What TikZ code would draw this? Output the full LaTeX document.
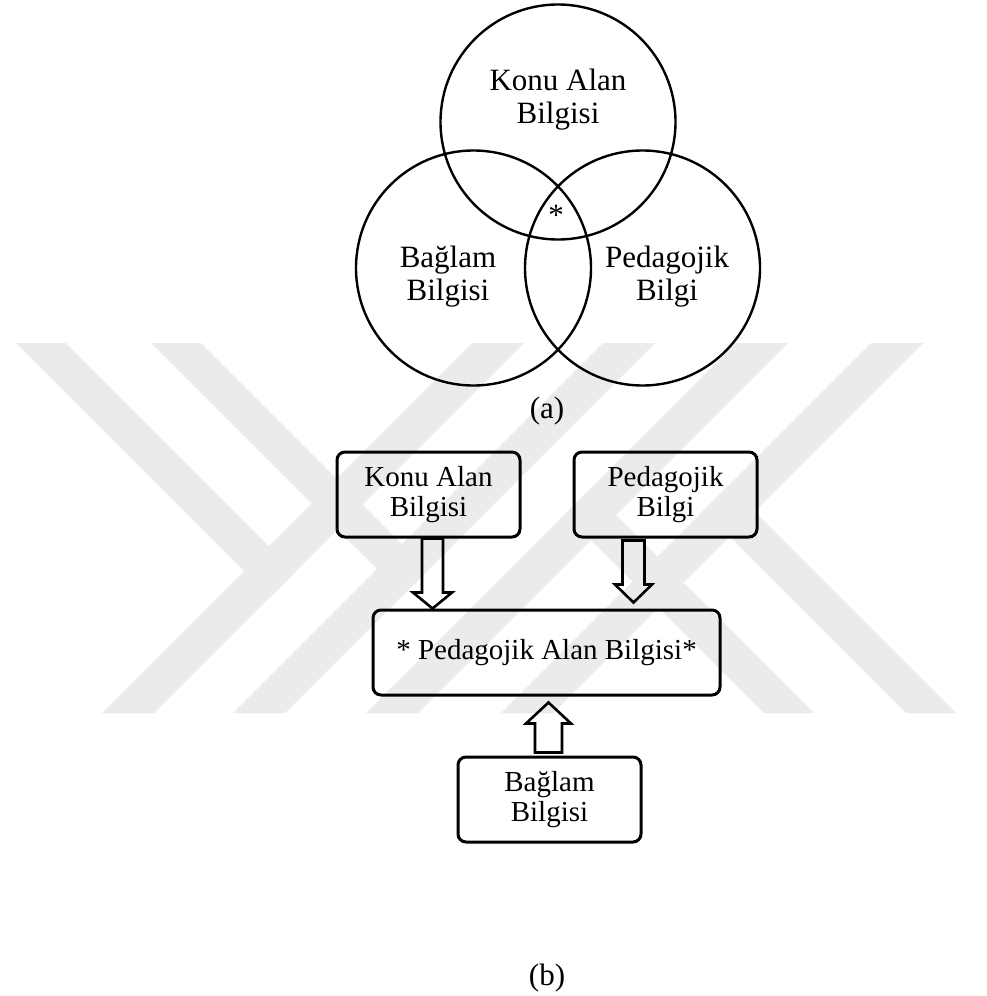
\documentclass[tikz,border=0pt]{standalone}
\usepackage{fontspec}
\setmainfont{Liberation Serif}
\usetikzlibrary{calc,positioning}
\definecolor{wmgray}{HTML}{EBEBEB}

% hollow block arrow: start, tip, shaft half width, head half width, head length
\newcommand{\hollowarrow}[5]{%
  \coordinate (hbase) at ($(#2)!#5!(#1)$);
  \draw[arrowline] ($(#1)!#3!90:(#2)$) -- ($(hbase)!#3!90:(#2)$)
    -- ($(hbase)!#4!90:(#2)$) -- (#2) -- ($(hbase)!#4!-90:(#2)$)
    -- ($(hbase)!#3!-90:(#2)$) -- ($(#1)!#3!-90:(#2)$) -- cycle;
}

\begin{document}
\begin{tikzpicture}[
  x=0.5pt, y=-0.5pt,
  venn/.style={circle, draw, line width=1.2pt, minimum size=117.5pt, inner sep=0pt},
  lbl/.style={align=center, font=\fontsize{15.5}{16.5}\selectfont},
  box/.style={draw, line width=1.5pt, rounded corners=4pt, align=center,
    minimum width=91.5pt, minimum height=42.5pt, inner sep=2pt,
    font=\fontsize{14.5}{15}\selectfont},
  arrowline/.style={draw, line width=1.3pt},
  wm/.style={fill=wmgray}
]
\useasboundingbox (0,0) rectangle (986,996);

% watermark
\foreach \a in {472,603,736,871}
  \fill[wm] (\a,343) -- ({\a+52},343) -- ({\a-318},713) -- ({\a-370},713) -- cycle;
\fill[wm] (16,343) -- (66,343) -- (295,572) -- (270,597) -- cycle;
\fill[wm] (151,343) -- (201,343) -- (428,570) -- (403,595) -- cycle;
\fill[wm] (565,514) -- (590,489) -- (814,713) -- (764,713) -- cycle;
\fill[wm] (703.5,510.5) -- (728.5,485.5) -- (956,713) -- (906,713) -- cycle;

% (a) three circles
\node[venn] (konu) at (558,122) {};
\node[venn] (baglam) at (473.5,268) {};
\node[venn] (peda) at (642.5,268) {};
\node[lbl] (konutxt) at (558,100) {Konu Alan\\Bilgisi};
\node[lbl] (baglamtxt) at (448,277) {Bağlam\\Bilgisi};
\node[lbl] (pedatxt) at (667,277) {Pedagojik\\Bilgi};
\node[lbl] (star) at (556,215) {*};
\node[lbl] (capa) at (547,411) {(a)};

% (b) boxes
\node[box] (kab) at (428.5,494.5) {Konu Alan\\Bilgisi};
\node[box, right=25.5pt of kab] (pb) {Pedagojik\\Bilgi};
\node[box, minimum width=173.5pt] (pab) at (546.5,652.5) {* Pedagojik Alan Bilgisi*};
\node[box, below=29.5pt of pab, xshift=1.5pt] (bb) {Bağlam\\Bilgisi};
\node[lbl] (capb) at (547,978) {(b)};

% block arrows
\coordinate (kabout) at ($(kab.south)+(4,0)$);
\coordinate (kabin) at (kabout |- pab.north);
\hollowarrow{kabout}{kabin}{5.25pt}{9.75pt}{8pt}
\coordinate (pbout) at ($(pb.south)+(-32,2)$);
\coordinate (pbin) at ($(pbout |- pab.north)+(0,-6)$);
\hollowarrow{pbout}{pbin}{5.5pt}{9.25pt}{9pt}
\coordinate (bbout) at ($(bb.north)+(-1,-3)$);
\coordinate (bbin) at ($(bbout |- pab.south)+(0,6)$);
\hollowarrow{bbout}{bbin}{6.75pt}{11.25pt}{10.5pt}
\end{tikzpicture}
\end{document}
